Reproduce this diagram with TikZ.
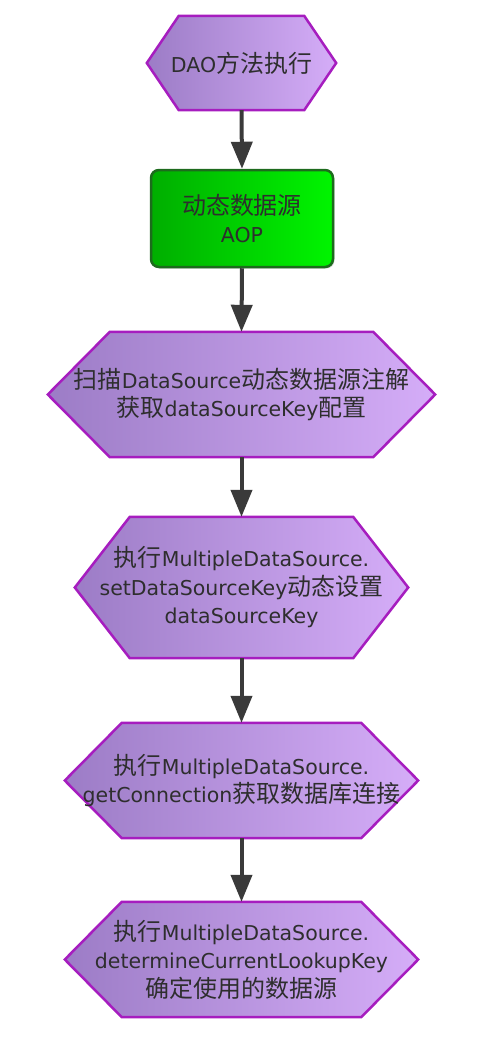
\documentclass[tikz,border=0pt]{standalone}
\usepackage{fontspec}
\setmainfont{DejaVu Sans}
\newfontfamily\cjk[Scale=1.17]{Noto Sans CJK SC}
\usetikzlibrary{backgrounds,arrows.meta,shadows}

\definecolor{hexline}{HTML}{A61DBF}
\definecolor{hexleft}{HTML}{9C7CC6}
\definecolor{hexright}{HTML}{D5ADF8}
\definecolor{aopleft}{HTML}{00AE00}
\definecolor{aopright}{HTML}{00F500}
\definecolor{aopline}{HTML}{1D6B1D}
\definecolor{txtgray}{HTML}{2E2E2E}
\definecolor{arrowgray}{HTML}{3A3A3A}

\tikzset{
  box/.style={inner sep=0pt, text=txtgray, align=center, font=\fontsize{20.5}{28.5}\selectfont},
  hexa/.style={draw=hexline, line width=2.5pt, left color=hexleft, right color=hexright},
  aop/.style={box, draw=aopline, line width=2.5pt, left color=aopleft, right color=aopright,
    rounded corners=8pt, drop shadow={shadow xshift=1.5pt, shadow yshift=-1.5pt, opacity=0.3}},
  flowarrow/.style={draw=arrowgray, line width=4pt, -{Triangle[width=21pt,length=27pt]}}
}
% hexagon round a node: name, depth of the side tips
\newcommand\hexshape[2]{%
  \path[hexa] ([xshift=#2]#1.north west) -- ([xshift=-#2]#1.north east) -- (#1.east)
    -- ([xshift=-#2]#1.south east) -- ([xshift=#2]#1.south west) -- (#1.west) -- cycle;}

\begin{document}
\begin{tikzpicture}[x=1pt,y=-1pt]
\useasboundingbox (0,0) rectangle (498,1042);
\node[box, minimum width=189pt, minimum height=94pt] (dao) at (241.5,63) {DAO{\cjk 方法执行}};
\node[aop, minimum width=182pt, minimum height=97pt] (dsaop) at (242,218.5) {{\cjk 动态数据源}\\AOP};
\node[box, minimum width=387pt, minimum height=125pt] (scan) at (241.5,394.5)
  {{\cjk 扫描}DataSource{\cjk 动态数据源注解}\\{\cjk 获取}dataSourceKey{\cjk 配置}};
\node[box, minimum width=333pt, minimum height=141pt] (setkey) at (241.5,587.5)
  {{\cjk 执行}MultipleDataSource.\\setDataSourceKey{\cjk 动态设置}\\dataSourceKey};
\node[box, minimum width=353pt, minimum height=115pt] (getconn) at (241.5,780.5)
  {{\cjk 执行}MultipleDataSource.\\getConnection{\cjk 获取数据库连接}};
\node[box, minimum width=353pt, minimum height=115pt] (lookup) at (241.5,959.5)
  {{\cjk 执行}MultipleDataSource.\\determineCurrentLookupKey\\{\cjk 确定使用的数据源}};
\begin{scope}[on background layer]
\hexshape{dao}{32}
\hexshape{scan}{62}
\hexshape{setkey}{55}
\hexshape{getconn}{57}
\hexshape{lookup}{57}
\end{scope}
\draw[flowarrow] (dao.south) -- (dsaop.north);
\draw[flowarrow] (dsaop.south) -- (scan.north);
\draw[flowarrow] (scan.south) -- (setkey.north);
\draw[flowarrow] (setkey.south) -- (getconn.north);
\draw[flowarrow] (getconn.south) -- (lookup.north);
\end{tikzpicture}
\end{document}
